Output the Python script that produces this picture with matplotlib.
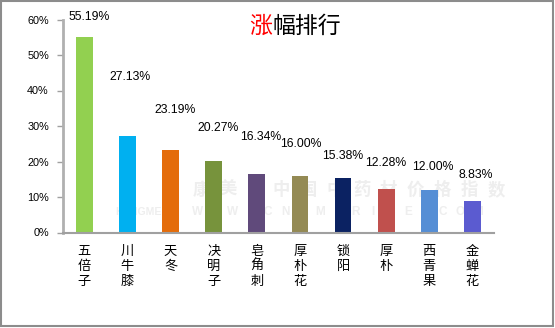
import matplotlib
matplotlib.use("Agg")
import matplotlib.pyplot as plt
from matplotlib.patches import Rectangle

# data
herbs = ["五倍子", "川牛膝", "天冬", "决明子", "皂角刺", "厚朴花", "锁阳", "厚朴", "西青果", "金蝉花"]
rise = [55.19, 27.13, 23.19, 20.27, 16.34, 16.00, 15.38, 12.28, 12.00, 8.83]
colors = ["#92D050", "#00B0F0", "#E46C0A", "#77933C", "#604A7B",
          "#948A54", "#0B2262", "#C0504D", "#558ED5", "#5B5BD0"]
# hand placed label offsets in pixels (dx, dy above bar top)
label_offsets = [(5, 20), (3, 59), (5, 40), (4, 33), (4, 37),
                 (1, 32), (0, 22), (0, 26), (4, 23), (3, 26)]
watermark = "康美·中国中药材价格指数"
watermark_url = "WWW.CNKMPRICE.COM"

cjk = ["Noto Sans CJK SC", "DejaVu Sans"]
latin = ["Liberation Sans", "DejaVu Sans"]

fig = plt.figure(figsize=(5.55, 3.28), dpi=100)
ax = fig.add_axes([62.75 / 555, 1 - 232.5 / 328, (494 - 62.75) / 555, 213 / 328])

x = range(len(herbs))
vals = [v / 100 for v in rise]
ax.bar(x, vals, width=0.39, color=colors, zorder=2)

for i, v in enumerate(vals):
    dx, dy = label_offsets[i]
    ax.annotate(f"{rise[i]:.2f}%", (i, v), xytext=(dx, dy), textcoords="offset pixels",
                ha="center", va="center", fontsize=8.8, family=latin, zorder=5)

ax.set_xlim(-0.5, len(herbs) - 0.5)
ax.set_ylim(0, 0.6)
ax.set_yticks([0, 0.1, 0.2, 0.3, 0.4, 0.5, 0.6])
ax.set_yticklabels([f"{int(t * 100)}%" for t in ax.get_yticks()], family=latin, fontsize=7.8)
ax.set_xticks(list(x))
ax.set_xticklabels(["\n".join(h) for h in herbs], family=cjk, fontsize=9.5, linespacing=1.22)
ax.tick_params(axis="x", length=0, pad=9)
ax.tick_params(axis="y", direction="out", length=4, width=1, color="#a0a0a0", pad=6)

for s in ["top", "right"]:
    ax.spines[s].set_visible(False)
ax.spines["left"].set_color("#b0b0b0")
ax.spines["left"].set_linewidth(2)
ax.spines["bottom"].set_color("#a0a0a0")
ax.spines["bottom"].set_linewidth(1.5)

# faint watermark behind the bars
for k, ch in enumerate(watermark):
    ax.text((201 + k * 26.8) / 555, 1 - 190 / 328, ch, transform=fig.transFigure, family=cjk,
            fontsize=12.5, fontweight="bold", color="#eeeeee", ha="center", va="center", zorder=1)
ax.text(115 / 555, 1 - 212 / 328, "KANGMEI", transform=fig.transFigure, family=latin,
        fontsize=7.5, fontweight="bold", color="#eeeeee", ha="left", va="center", zorder=1)
for k, ch in enumerate(watermark_url):
    ax.text((198 + k * 17.5) / 555, 1 - 212 / 328, ch, transform=fig.transFigure, family=latin,
            fontsize=8.5, fontweight="bold", color="#eeeeee", ha="center", va="center", zorder=1)

# title, first character in red
fig.text(249 / 555, 1 - 26 / 328, "涨", family=cjk, fontsize=16.5, color="red", ha="left", va="center")
fig.text(272 / 555, 1 - 26 / 328, "幅排行", family=cjk, fontsize=16.5, color="black", ha="left", va="center")

# outer frame
fig.patches.append(Rectangle((1 / 555, 2 / 328), 552 / 555, 325 / 328, transform=fig.transFigure,
                             fill=False, edgecolor="#8c8c8c", linewidth=1.5))

fig.savefig("out.png", dpi=100)
